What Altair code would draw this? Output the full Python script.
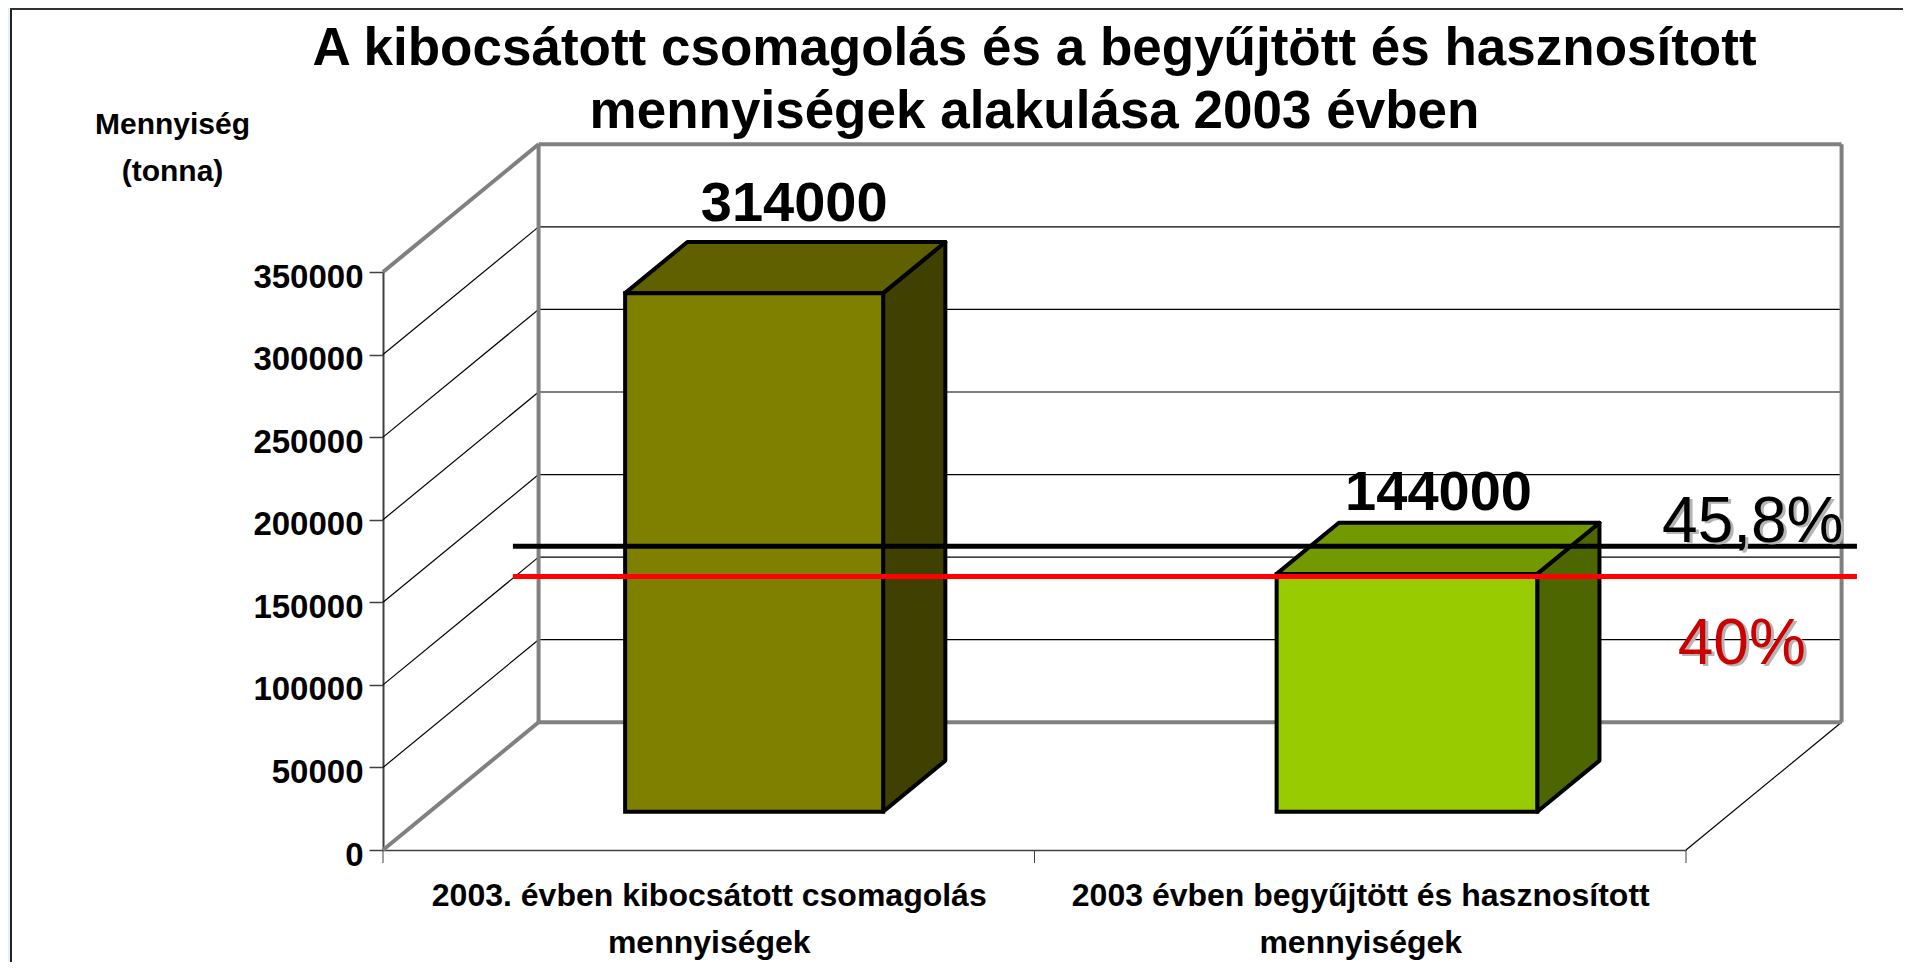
import altair as alt
import pandas as pd

FONT = "Liberation Sans"
title_lines = ["A kibocsátott csomagolás és a begyűjtött és hasznosított",
               "mennyiségek alakulása 2003 évben"]
axis_title = ["Mennyiség", "(tonna)"]
cat_lines = [["2003. évben kibocsátott csomagolás", "mennyiségek"],
             ["2003 évben begyűjtött és hasznosított", "mennyiségek"]]
y_ticks = [0, 50000, 100000, 150000, 200000, 250000, 300000, 350000]
x_ticks = [0, 1, 2]
bar_values = [314000, 144000]
bar_labels = ["314000", "144000"]
bar_lift = [12500, 7800]
bar_label_shift = [-0.036, -0.047]
front_fill = ["#808000", "#99CC00"]
top_fill = ["#606000", "#739900"]
side_fill = ["#404000", "#4D6600"]
threshold_values = [145200, 126900]
threshold_colors = ["#000000", "#FF0000"]
threshold_labels = ["45,8%", "40%"]
label_colors = ["#000000", "#CC0000"]

# oblique projection of the 3-D box, in data units
DEPTH_X = 0.2388
DEPTH_Y = 77330
BAR_L, D0, D1 = 0.30, 0.30, 0.70
BAR_R = [0.696, 0.70]


def px(x, d):
    return x + d * DEPTH_X


def py(v, d):
    return v + d * DEPTH_Y


X = alt.Scale(domain=[0, 2], nice=False, zero=False)
Y = alt.Scale(domain=[0, 350000], nice=False, zero=False)


def xe(f="x"):
    return alt.X(f"{f}:Q", scale=X)


def ye(f="y"):
    return alt.Y(f"{f}:Q", scale=Y, stack=None)


def seg(x1, v1, d1, x2, v2, d2):
    return dict(x=px(x1, d1), y=py(v1, d1), x2=px(x2, d2), y2=py(v2, d2))


def rules(rows, color, width):
    return alt.Chart(pd.DataFrame(rows)).mark_rule(color=color, strokeWidth=width, clip=False).encode(
        x=xe(), y=ye(), x2="x2:Q", y2="y2:Q")


# slide frame and the sliver of slide background to its left
one = pd.DataFrame({"a": [0]})
strip = alt.Chart(one).mark_rule(color="#E3F1FB", strokeWidth=3).encode(
    x=alt.value(-374), y=alt.value(-264), y2=alt.value(690))
frame_v = alt.Chart(one).mark_rule(color="#222222", strokeWidth=2).encode(
    x=alt.value(-372), y=alt.value(-264), y2=alt.value(690))
frame_h = alt.Chart(one).mark_rule(color="#333333", strokeWidth=2).encode(
    y=alt.value(-263), x=alt.value(-373), x2=alt.value(1520))

# thin grid lines on side wall and back wall
grid_rows = []
for v in y_ticks[1:-1]:
    grid_rows.append(seg(0, v, 0, 0, v, 1))
    grid_rows.append(seg(0, v, 1, 2, v, 1))
grid_rows.append(seg(2, 0, 0, 2, 0, 1))
grid = rules(grid_rows, "#000000", 1.2)

TOP = y_ticks[-1]
wall_rows = [seg(0, TOP, 0, 0, TOP, 1), seg(0, TOP, 1, 2, TOP, 1),
             seg(0, 0, 1, 0, TOP, 1), seg(2, 0, 1, 2, TOP, 1),
             seg(0, 0, 0, 0, 0, 1), seg(0, 0, 1, 2, 0, 1)]
walls = rules(wall_rows, "#808080", 4)

# axes
x_label_expr = ("datum.value < 1 ? ['%s','%s'] : ['%s','%s']"
                % (cat_lines[0][0], cat_lines[0][1], cat_lines[1][0], cat_lines[1][1]))
axis_layer = alt.Chart(pd.DataFrame({"x": x_ticks, "y": [0] * 3, "y2": [-7900] * 3})).mark_rule(
    color="#404040", strokeWidth=1, clip=False).encode(
    x=alt.X("x:Q", scale=X, title=None, axis=alt.Axis(
        values=[0.5, 1.5], ticks=False, grid=False, labelExpr=x_label_expr, labelLimit=800,
        labelFont=FONT, labelFontSize=32, labelFontWeight="bold", labelColor="#000000",
        labelLineHeight=47, labelPadding=30, labelOverlap=False, labelFlush=False,
        labelBound=False, labelAlign="center", domainColor="#404040", domainWidth=1.5)),
    y=alt.Y("y:Q", scale=Y, axis=alt.Axis(
        values=y_ticks, format="d", grid=False, tickSize=14, tickWidth=1.5, tickColor="#404040",
        domainColor="#404040", domainWidth=2, labelFont=FONT, labelFontSize=33,
        labelFontWeight="bold", labelColor="#000000", labelPadding=6, labelOffset=5,
        labelOverlap=False, labelFlush=False, labelBound=False,
        title=axis_title, titleFont=FONT, titleFontSize=30, titleFontWeight="bold",
        titleColor="#000000", titleAngle=0, titleAlign="center", titleBaseline="alphabetic",
        titleLineHeight=47, titleX=-211, titleY=-139)),
    y2="y2:Q")

# title, centred over the plot
title_y = [-207, -144]
title_layers = [
    alt.Chart(pd.DataFrame({"x": [1], "t": [t]})).mark_text(
        font=FONT, fontSize=53, fontWeight="bold", color="black", align="center", baseline="alphabetic"
    ).encode(x=xe(), y=alt.value(yv), text="t:N")
    for t, yv in zip(title_lines, title_y)
]

# bars
front_rows, top_rows, side_rows, label_rows = [], [], [], []
for i, v in enumerate(bar_values):
    l, r = i + BAR_L, i + BAR_R[i]
    front_rows.append(dict(x=px(l, D0), x2=px(r, D0), y=py(0, D0), y2=py(v, D0), c=front_fill[i]))
    for d in (D0, D1):
        top_rows.append(dict(x=px(l, d), x2=px(r, d), y=py(v, d), c=top_fill[i]))
        side_rows.append(dict(x=px(r, d), y=py(0, d), y2=py(v, d), c=side_fill[i]))
    label_rows.append(dict(x=px(i + 0.5, D1) + bar_label_shift[i], y=py(v, D1) + bar_lift[i], t=bar_labels[i]))

COLOR = alt.Color("c:N", scale=None, legend=None)
side = alt.Chart(pd.DataFrame(side_rows)).mark_area(stroke="black", strokeWidth=4, clip=False, strokeJoin="round").encode(
    x=xe(), y=ye(), y2="y2:Q", color=COLOR)
top = alt.Chart(pd.DataFrame(top_rows)).mark_area(orient="horizontal", stroke="black", strokeWidth=4, clip=False, strokeJoin="round").encode(
    y=ye(), x=alt.X("x:Q", scale=X, stack=None), x2="x2:Q", color=COLOR)
front = alt.Chart(pd.DataFrame(front_rows)).mark_rect(stroke="black", strokeWidth=4, clip=False).encode(
    x=xe(), x2="x2:Q", y=ye(), y2="y2:Q", color=COLOR)
bar_text = alt.Chart(pd.DataFrame(label_rows)).mark_text(
    font=FONT, fontSize=56, fontWeight="bold", color="black", align="center", baseline="alphabetic").encode(
    x=xe(), y=ye(), text="t:N")

# target lines
line_rows = [dict(x=px(0.08, 0.5), x2=px(2.143, 0.5), y=py(v, 0.5), y2=py(v, 0.5), c=c)
             for v, c in zip(threshold_values, threshold_colors)]
lines = alt.Chart(pd.DataFrame(line_rows)).mark_rule(strokeWidth=5, clip=False).encode(
    x=xe(), x2="x2:Q", y=ye(), y2="y2:Q", color=COLOR)

pct_x = [2.0, 2.0]
pct_lift = [4, -87]
pct_nudge = [-11, -22]
pct_layers = []
for i in range(2):
    row = pd.DataFrame([dict(x=px(pct_x[i], 0.5), y=py(threshold_values[i], 0.5), t=threshold_labels[i])])
    for col, ox, oy in (("#B4B4B4", 3, 2), (label_colors[i], 0, 0)):
        pct_layers.append(alt.Chart(row).mark_text(
            font=FONT, fontSize=64, color=col, align="center", baseline="alphabetic",
            dx=pct_nudge[i] + ox, dy=-pct_lift[i] + oy).encode(
            x=xe(), y=ye(), text="t:N"))

chart = alt.layer(axis_layer, strip, frame_v, frame_h, grid, walls, side, top, front, lines, bar_text,
                  *title_layers, *pct_layers).properties(
    width=1303, height=578,
    background="white",
    padding={"left": 375, "top": 264, "right": 225, "bottom": 112},
    autosize=alt.AutoSizeParams(type="none"),
).configure_view(stroke=None)

chart.save("out.html", embed_options={"renderer": "svg", "actions": False})
